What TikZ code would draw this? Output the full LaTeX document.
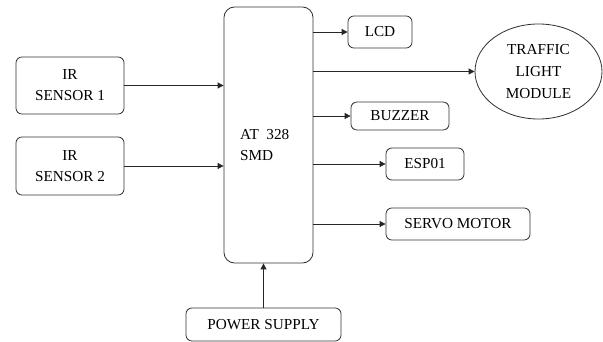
\documentclass[tikz,border=0pt]{standalone}
\usepackage{fontspec}
\setmainfont{Liberation Serif}
\usetikzlibrary{arrows.meta,shapes.geometric}

\begin{document}
\begin{tikzpicture}[
    x=0.03cm, y=-0.03cm,
    block/.style={rectangle, draw=black!80, rounded corners=5pt, line width=0.7pt,
        align=center, font=\fontsize{13}{18}\selectfont},
    flow/.style={-{Triangle[length=5pt,width=5pt]}, line width=0.7pt, black!85}
]
\useasboundingbox (0,0) rectangle (603,342);

% Inputs
\node[block, minimum width=3.24cm, minimum height=1.71cm] (ir1) at (70,85.5) {IR\\SENSOR 1};
\node[block, minimum width=3.24cm, minimum height=1.74cm] (ir2) at (70,166) {IR\\SENSOR 2};

% Controller
\node[block, rounded corners=9pt, minimum width=2.67cm, minimum height=7.68cm] (mcu) at (268.5,135) {};
\node[anchor=west, align=left, inner sep=0pt, font=\fontsize{13}{18}\selectfont] (mcuText) at (240,145) {AT~~328\\SMD};

% Outputs
\node[block, minimum width=1.92cm, minimum height=0.96cm] (lcd) at (380,32) {LCD};
\node[ellipse, draw=black!80, line width=0.7pt, align=center, font=\fontsize{13}{19}\selectfont,
    minimum width=3.81cm, minimum height=2.85cm, inner sep=0pt] (traffic) at (538.5,71.5) {TRAFFIC\\LIGHT\\MODULE};
\node[block, minimum width=2.94cm, minimum height=0.84cm] (buzzer) at (400,116) {BUZZER};
\node[block, minimum width=2.34cm, minimum height=0.96cm] (esp) at (425,164) {ESP01};
\node[block, minimum width=4.32cm, minimum height=0.96cm] (servo) at (458,224) {SERVO MOTOR};

% Supply
\node[block, minimum width=4.65cm, minimum height=0.99cm] (power) at (263.5,324.5) {POWER SUPPLY};

% Connections
\draw[flow] (ir1.east) -- (ir1 -| mcu.west);
\draw[flow] (ir2.east) -- (ir2 -| mcu.west);
\draw[flow] (mcu.east |- lcd) -- (lcd.west);
\draw[flow] (mcu.east |- traffic) -- (traffic.west);
\draw[flow] (mcu.east |- buzzer) -- (buzzer.west);
\draw[flow] (mcu.east |- esp) -- (esp.west);
\draw[flow] (mcu.east |- servo) -- (servo.west);
\draw[flow] (power.north) -- (power |- mcu.south);

\end{tikzpicture}
\end{document}
